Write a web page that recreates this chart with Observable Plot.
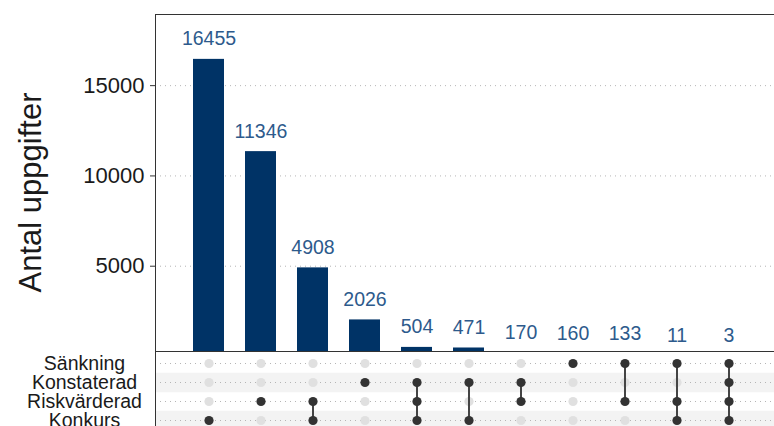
<!DOCTYPE html>
<html>
<head>
<meta charset="utf-8">
<script src="https://cdn.jsdelivr.net/npm/d3@7"></script>
<script src="https://cdn.jsdelivr.net/npm/@observablehq/plot@0.6"></script>
<style>
  html, body { margin: 0; padding: 0; background: white; }
  #wrap { position: relative; width: 774px; height: 426px; overflow: hidden; background: white; }
  #barsPanel { position: absolute; left: 0; top: 0; }
  #matrixPanel { position: absolute; left: 0; top: 351px; }
</style>
</head>
<body>
<div id="wrap"><div id="barsPanel"></div><div id="matrixPanel"></div></div>
<script>
// ---- data ----
const sets = ["Sänkning", "Konstaterad", "Riskvärderad", "Konkurs"];
const shadedSets = ["Konstaterad", "Konkurs"];
const counts = [16455, 11346, 4908, 2026, 504, 471, 170, 160, 133, 11, 3];
const members = [
  ["Konkurs"],
  ["Riskvärderad"],
  ["Riskvärderad", "Konkurs"],
  ["Konstaterad"],
  ["Konstaterad", "Riskvärderad", "Konkurs"],
  ["Konstaterad", "Konkurs"],
  ["Konstaterad", "Riskvärderad"],
  ["Sänkning"],
  ["Sänkning", "Riskvärderad"],
  ["Sänkning", "Riskvärderad", "Konkurs"],
  ["Sänkning", "Konstaterad", "Riskvärderad", "Konkurs"]
];
const yTicks = [5000, 10000, 15000];
const yTitle = "Antal uppgifter";

// ---- derived tables ----
const combos = members.map(m => m.join(" & "));
const barData = combos.map((c, i) => ({combo: c, count: counts[i]}));
const cells = combos.flatMap((c, i) => sets.map(s => ({combo: c, set: s, active: members[i].includes(s)})));
const links = combos.map((c, i) => {
  const idx = members[i].map(s => sets.indexOf(s));
  return {combo: c, y1: sets[d3.min(idx)], y2: sets[d3.max(idx)], n: idx.length};
}).filter(d => d.n > 1);

const font = "'Liberation Sans', Arial, sans-serif";
const xScale = {type: "band", domain: combos, range: [181, 755], paddingInner: 0.406, paddingOuter: 0.203, axis: null};

const barsChart = Plot.plot({
  width: 782, height: 352,
  marginLeft: 155, marginRight: 0, marginTop: 14, marginBottom: 0,
  style: {fontFamily: font, maxWidth: "none", background: "white"},
  x: xScale,
  y: {domain: [0, 18940], range: [356, 14], axis: null},
  marks: [
    Plot.ruleY(yTicks, {stroke: "#b5b5b5", strokeDasharray: "1,4"}),
    Plot.barY(barData, {x: "combo", y: "count", fill: "#003366"}),
    Plot.text(barData, {x: "combo", y: "count", text: d => String(d.count), dy: -14, lineAnchor: "bottom", fill: "#2d5a8c", fontSize: 19.5}),
    Plot.axisY({ticks: yTicks, tickSize: 5, tickPadding: 6, tickFormat: d => String(d), fontSize: 22, label: null, stroke: "#333", color: "#1a1a1a"}),
    Plot.text([yTitle], {frameAnchor: "left", textAnchor: "middle", dx: -124, dy: 9, rotate: -90, fontSize: 31, fill: "#1a1a1a"}),
    Plot.frame({stroke: "#333"})
  ]
});
document.getElementById("barsPanel").appendChild(barsChart);

const matrixChart = Plot.plot({
  width: 782, height: 80,
  marginLeft: 155, marginRight: 0, marginTop: 0, marginBottom: 0,
  style: {fontFamily: font, maxWidth: "none", background: "white"},
  x: xScale,
  y: {type: "point", domain: sets, range: [10.8, 69.6], padding: 0, axis: null},
  marks: [
    Plot.ruleY(shadedSets, {y: d => d, stroke: "#f3f3f3", strokeWidth: 19.6}),
    Plot.ruleY(sets, {y: d => d, stroke: "#b5b5b5", strokeDasharray: "1,4"}),
    Plot.dot(cells.filter(d => !d.active), {x: "combo", y: "set", r: 4.6, fill: "#e0e0e0"}),
    Plot.ruleX(links, {x: "combo", y1: "y1", y2: "y2", stroke: "#444", strokeWidth: 2}),
    Plot.dot(cells.filter(d => d.active), {x: "combo", y: "set", r: 4.6, fill: "#333"}),
    Plot.text(sets, {y: d => d, frameAnchor: "left", dx: -71, textAnchor: "middle", fontSize: 19.5, fill: "#1a1a1a"}),
    Plot.frame({stroke: "#333"})
  ]
});
document.getElementById("matrixPanel").appendChild(matrixChart);
</script>
</body>
</html>
